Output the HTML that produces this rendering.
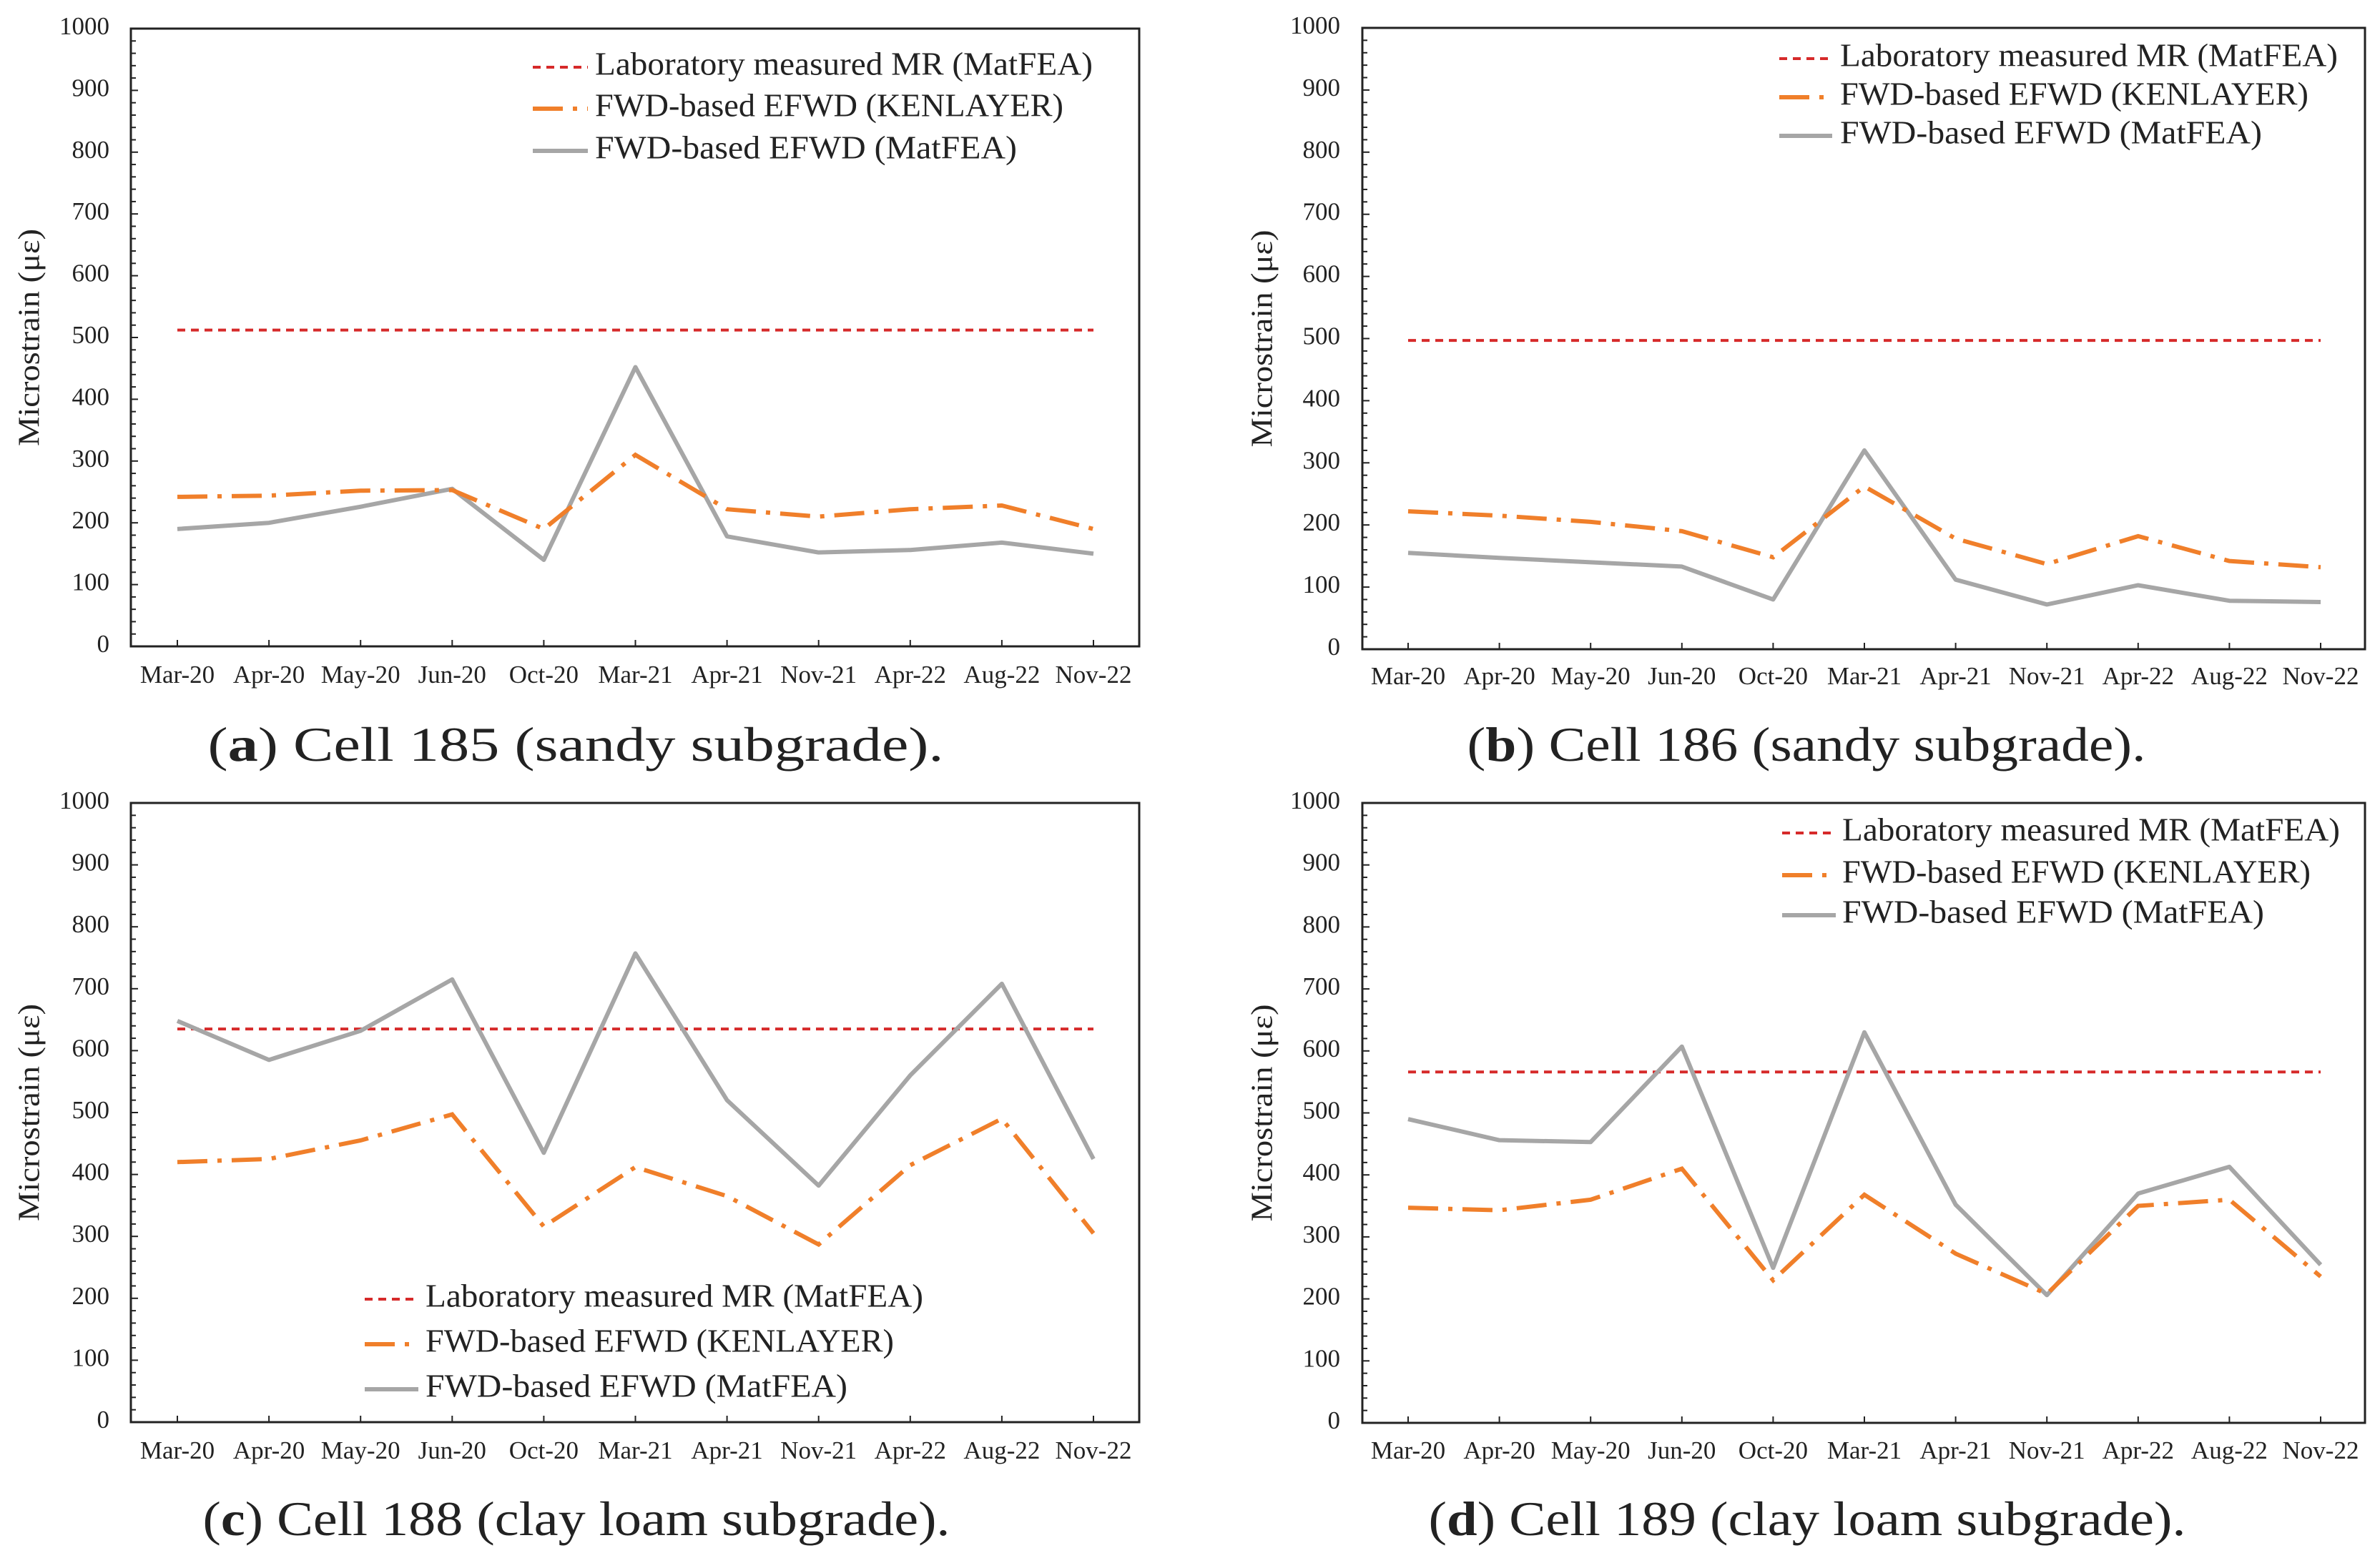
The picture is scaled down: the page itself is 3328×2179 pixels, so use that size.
<!DOCTYPE html>
<html><head><meta charset="utf-8">
<style>html,body{margin:0;padding:0;background:#fff}svg{display:block}svg text{font-family:"Liberation Serif","Times New Roman",Times,serif;fill:#222}</style>
</head><body>
<svg id="fig" width="3328" height="2179" viewBox="0 0 3328 2179" xmlns="http://www.w3.org/2000/svg" font-family="'Liberation Serif','Times New Roman',Times,serif"></svg>
<script>
const categories=["Mar-20","Apr-20","May-20","Jun-20","Oct-20","Mar-21","Apr-21","Nov-21","Apr-22","Aug-22","Nov-22"];
const yTicks=[0,100,200,300,400,500,600,700,800,900,1000];
const mrA=512, mrB=497, mrC=635, mrD=566;
const kenA=[242,244,252,253,190,310,222,210,222,228,190];
const matA=[190,200,226,255,140,452,178,152,156,168,150];
const kenB=[222,215,205,190,148,262,178,137,182,142,132];
const matB=[155,147,140,133,80,320,112,72,103,78,76];
const kenC=[420,425,455,497,316,412,365,287,415,490,305];
const matC=[648,585,632,715,435,757,520,382,560,708,425];
const kenD=[347,343,360,410,230,368,273,208,350,360,236];
const matD=[490,456,453,607,250,630,352,206,370,413,255];
const legendLabels=["Laboratory measured MR (MatFEA)","FWD-based EFWD (KENLAYER)","FWD-based EFWD (MatFEA)"];

const NS="http://www.w3.org/2000/svg";
const svg=document.getElementById('fig');
function mk(tag,attrs,parent,txt){const e=document.createElementNS(NS,tag);for(const k in attrs)e.setAttribute(k,attrs[k]);if(txt!==undefined)e.textContent=txt;(parent||svg).appendChild(e);return e;}

function panel(p){
  const g=mk('g',{});
  
  
  const y=v=>p.bottom-(v/1000)*(p.bottom-p.top);
  const x=i=>p.c0+i*(p.c1-p.c0)/(categories.length-1);
  for(let v=0;v<=1000;v+=20){const t=mk('line',{x1:p.left,x2:p.left+(v%100===0?10:7),y1:y(v),y2:y(v),stroke:'#222','stroke-width':2},g);
    }
  categories.forEach((c,i)=>{const t=mk('line',{x1:x(i),x2:x(i),y1:p.bottom,y2:p.bottom-9,stroke:'#222','stroke-width':2},g);
    
    const l=mk('text',{x:x(i),y:p.catY,'font-size':35,'text-anchor':'middle','dominant-baseline':'middle'},g,c);
    });
  yTicks.forEach(v=>{const l=mk('text',{x:p.tickX,y:y(v),'font-size':35,'text-anchor':'end','dominant-baseline':'middle'},g,String(v));
    });
  const box=mk('rect',{x:p.left,y:p.top,width:p.right-p.left,height:p.bottom-p.top,fill:'none',stroke:'#222','stroke-width':3},g);
  
  const yt=mk('text',{x:0,y:0,'font-size':42,'text-anchor':'middle','dominant-baseline':'middle',transform:`translate(${p.titleX},${(p.top+p.bottom)/2}) rotate(-90)`,textLength:304,lengthAdjust:'spacingAndGlyphs'},g,'Microstrain (με)');
  
  const mr=mk('line',{x1:x(0),x2:x(categories.length-1),y1:y(p.mr),y2:y(p.mr),stroke:'#d62a2a','stroke-width':4,'stroke-dasharray':'11 8'},g);
  
  const mp=mk('polyline',{points:p.mat.map((v,i)=>x(i)+','+y(v)).join(' '),fill:'none',stroke:'#a6a6a6','stroke-width':6,'stroke-linejoin':'round'},g);
  
  const kp=mk('polyline',{points:p.ken.map((v,i)=>x(i)+','+y(v)).join(' '),fill:'none',stroke:'#f07f2a','stroke-width':6,'stroke-dasharray':'42 14 6 14'},g);
  
  const styles=[{stroke:'#d62a2a','stroke-width':4,'stroke-dasharray':'11 8'},{stroke:'#f07f2a','stroke-width':6,'stroke-dasharray':'42 14 6 14'},{stroke:'#a6a6a6','stroke-width':6}];
  const widths=[696,655,590];
  legendLabels.forEach((lab,i)=>{
    const ln=mk('line',Object.assign({x1:p.lx0,x2:p.lx1,y1:p.ly[i],y2:p.ly[i]},styles[i]),g);
    
    const t=mk('text',{x:p.tx,y:p.ly[i],'font-size':46,'dominant-baseline':'middle',textLength:widths[i],lengthAdjust:'spacingAndGlyphs'},g,lab);
    
  });
  const cap=mk('text',{x:p.capX,y:p.capY,'font-size':68,'text-anchor':'middle','dominant-baseline':'middle',textLength:p.capW,lengthAdjust:'spacingAndGlyphs'},g);
  
  mk('tspan',{},cap,'(');mk('tspan',{'font-weight':'bold'},cap,p.id);mk('tspan',{},cap,') '+p.caption);
}
panel({id:'a',mr:mrA,ken:kenA,mat:matA,left:183,right:1593,top:40,bottom:904,c0:248,c1:1529,tickX:153,catY:947,titleX:45,
  lx0:745,lx1:822,tx:832,ly:[94,152,211],capX:805,capY:1048,capW:1029,caption:'Cell 185 (sandy subgrade).'});
panel({id:'b',mr:mrB,ken:kenB,mat:matB,left:1905,right:3307,top:39,bottom:908,c0:1969,c1:3245,tickX:1874,catY:949,titleX:1769,
  lx0:2488,lx1:2562,tx:2573,ly:[82,136,190],capX:2526,capY:1048,capW:949,caption:'Cell 186 (sandy subgrade).'});
panel({id:'c',mr:mrC,ken:kenC,mat:matC,left:183,right:1593,top:1123,bottom:1989,c0:248,c1:1529,tickX:153,catY:2032,titleX:45,
  lx0:510,lx1:585,tx:595,ly:[1817,1880,1943],capX:806,capY:2131,capW:1045,caption:'Cell 188 (clay loam subgrade).'});
panel({id:'d',mr:mrD,ken:kenD,mat:matD,left:1905,right:3307,top:1123,bottom:1990,c0:1969,c1:3245,tickX:1874,catY:2032,titleX:1769,
  lx0:2492,lx1:2567,tx:2576,ly:[1165,1224,1280],capX:2527,capY:2131,capW:1059,caption:'Cell 189 (clay loam subgrade).'});
</script>
</body></html>
